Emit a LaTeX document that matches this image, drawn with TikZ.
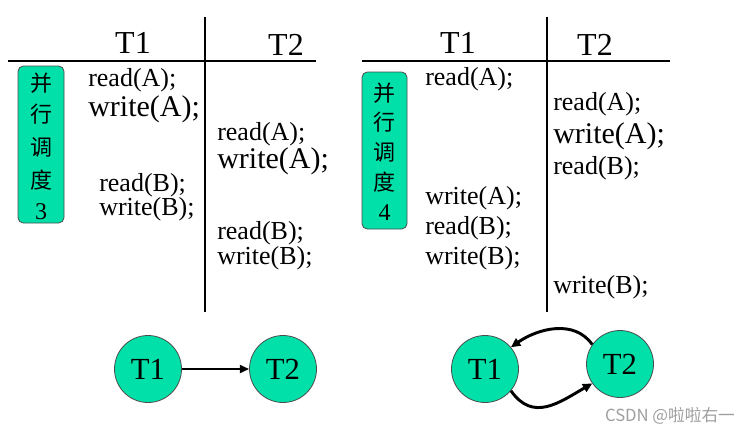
\documentclass[tikz,border=0pt]{standalone}
\usepackage{fontspec}
\setmainfont{Liberation Serif}
\newfontfamily\cjk{Noto Sans CJK SC}
\usetikzlibrary{arrows.meta}
\definecolor{tgreen}{RGB}{0,224,168}
\begin{document}
\begin{tikzpicture}[x=0.75pt,y=-0.75pt,
  tline/.style={line width=2pt},
  op/.style={anchor=west, inner sep=0pt, yshift=-1.8pt, font=\fontsize{19.5}{20}\selectfont},
  opbig/.style={anchor=west, inner sep=0pt, yshift=-1.8pt, font=\fontsize{22.5}{23}\selectfont},
  hdr/.style={anchor=base, inner sep=0pt, font=\fontsize{24}{24}\selectfont},
  sbox/.style={draw=black!70, fill=tgreen, rounded corners=4pt, line width=0.6pt, minimum width=34.5pt, minimum height=117.75pt, inner sep=0pt},
  cj/.style={font=\cjk\fontsize{16.5}{17}\selectfont, inner sep=0pt},
  dig/.style={font=\fontsize{18}{18}\selectfont, inner sep=0pt},
  txn/.style={circle, draw=black!70, fill=tgreen, minimum size=50.25pt, inner sep=0pt, line width=0.6pt, font=\fontsize{23}{23}\selectfont},
  dep/.style={-{Triangle[length=7pt,width=6pt]}, line width=1.6pt},
  depc/.style={-{Triangle[length=7pt,width=6.5pt]}, line width=2.2pt}
]
\useasboundingbox (0,0) rectangle (753,433);

% ---------- left schedule ----------
\coordinate (la) at (8,61);
\coordinate (lb) at (316,61);
\coordinate (lc) at (205,17);
\coordinate (ld) at (205,312);
\draw[tline] (la) -- (lb);
\draw[tline] (lc) -- (ld);
\node[hdr] (lT1) at (133,53) {T1};
\node[hdr] (lT2) at (286,55) {T2};

\node[sbox] (box3) at (41,144.5) {};
\node[cj] (b3a) at (41,83) {并};
\node[cj] (b3b) at (41,114) {行};
\node[cj] (b3c) at (41,147) {调};
\node[cj] (b3d) at (41,180) {度};
\node[dig] (b3e) at (41,212) {3};

\node[op] (l1) at (88,78) {read(A);};
\node[opbig] (l2) at (88,107) {write(A);};
\node[op] (l3) at (99,183) {read(B);};
\node[op] (l4) at (99,207) {write(B);};
\node[op] (l5) at (217,132) {read(A);};
\node[opbig] (l6) at (217,159) {write(A);};
\node[op] (l7) at (217,231) {read(B);};
\node[op] (l8) at (217,256) {write(B);};

% ---------- right schedule ----------
\coordinate (ra) at (362,61);
\coordinate (rb) at (670,61);
\coordinate (rc) at (547,17);
\coordinate (rd) at (547,312);
\draw[tline] (ra) -- (rb);
\draw[tline] (rc) -- (rd);
\node[hdr] (rT1) at (458,53) {T1};
\node[hdr] (rT2) at (595,55) {T2};

\node[sbox, minimum width=33.75pt] (box4) at (384.5,150.5) {};
\node[cj] (b4a) at (384.5,93) {并};
\node[cj] (b4b) at (384.5,122) {行};
\node[cj] (b4c) at (384.5,152) {调};
\node[cj] (b4d) at (384.5,182) {度};
\node[dig] (b4e) at (384.5,213) {4};

\node[op] (r1) at (425,77) {read(A);};
\node[op] (r2) at (425,196) {write(A);};
\node[op] (r3) at (425,226) {read(B);};
\node[op] (r4) at (425,256) {write(B);};
\node[op] (r5) at (553,102) {read(A);};
\node[opbig] (r6) at (553,134) {write(A);};
\node[op] (r7) at (553,166) {read(B);};
\node[op] (r8) at (553,285) {write(B);};

% ---------- precedence graphs ----------
\node[txn] (g1) at (148,369) {T1};
\node[txn] (g2) at (283,369) {T2};
\draw[dep] (g1) -- (g2);

\node[txn] (h1) at (485,369) {T1};
\node[txn] (h2) at (620,364) {T2};
\draw[depc] (h2.145) to[out=125,in=35] (h1.40);
\draw[depc] (h1.-40) to[out=-55,in=-150,looseness=1.2] (h2.215);

\node[font=\cjk\fontsize{12.5}{13}\selectfont, text=black!38, inner sep=0pt] (wm) at (670,416) {CSDN @啦啦右一};
\end{tikzpicture}
\end{document}
